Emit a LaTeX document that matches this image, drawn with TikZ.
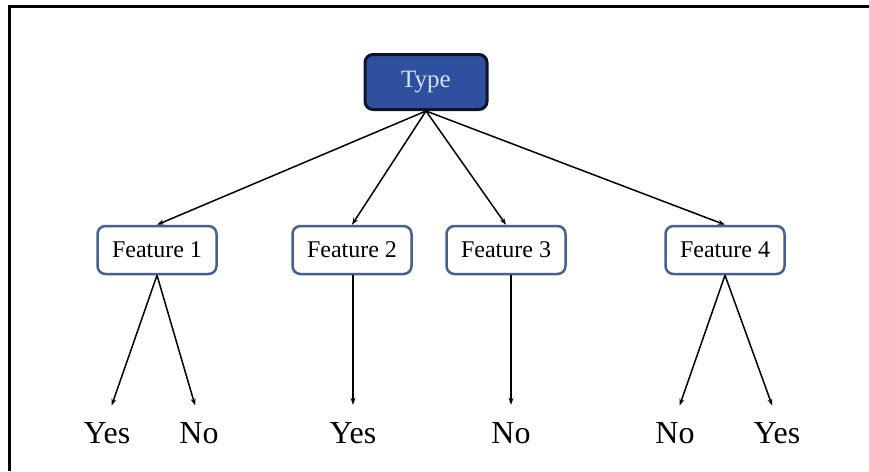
\documentclass[tikz,border=0pt]{standalone}
\usepackage{fontspec}
\setmainfont{Liberation Serif}
\usetikzlibrary{positioning}
\usetikzlibrary{arrows.meta}

\definecolor{typeblue}{RGB}{47,80,158}
\definecolor{typeedge}{RGB}{15,20,40}
\definecolor{featedge}{RGB}{70,95,140}
\definecolor{typetext}{RGB}{215,225,248}

\begin{document}
\begin{tikzpicture}[x=1pt, y=-1pt,
    typebox/.style={rectangle, rounded corners=8pt, minimum width=122pt, minimum height=55pt, line width=3pt, draw=typeedge, fill=typeblue, text=typetext, font=\fontsize{25}{29}\selectfont},
    featbox/.style={rectangle, rounded corners=8pt, minimum width=119pt, minimum height=48pt, line width=2.5pt, draw=featedge, fill=white, font=\fontsize{24}{28}\selectfont},
    answer/.style={anchor=base, inner sep=3pt, font=\fontsize{32}{36}\selectfont},
    branch/.style={line width=1.5pt, -{Stealth[length=7pt, width=5pt]}}]
    \useasboundingbox (0,0) rectangle (869,471);
    \draw[line width=3pt] (9,471) -- (9,6) -- (869,6);

    \node (type) [typebox] at (426,82) {Type};

    \node (feat1) [featbox] at (157,250) {Feature 1};
    \node (feat2) [featbox, right = 73.5pt of feat1] {Feature 2};
    \node (feat3) [featbox, right = 32.5pt of feat2] {Feature 3};
    \node (feat4) [featbox, right = 97.5pt of feat3] {Feature 4};

    \node (yes1) [answer] at (107,443) {Yes};
    \node (no1) [answer] at (199,443) {No};
    \node (yes2) [answer] at (353,443) {Yes};
    \node (no3) [answer] at (511,443) {No};
    \node (no4) [answer] at (675,443) {No};
    \node (yes4) [answer] at (777,443) {Yes};

    \draw[branch] (type.south) -- (feat1.north);
    \draw[branch] (type.south) -- (feat2.north);
    \draw[branch] (type.south) -- (feat3.north);
    \draw[branch] (type.south) -- (feat4.north);

    \draw[branch, shorten >=14pt] (feat1.south) -- (yes1.north);
    \draw[branch, shorten >=14pt] (feat1.south) -- (no1.north);
    \draw[branch, shorten >=14pt] (feat2.south -| yes2.north) -- (yes2.north);
    \draw[branch, shorten >=14pt] (feat3.south -| no3.north) -- (no3.north);
    \draw[branch, shorten >=14pt] (feat4.south) -- (no4.north);
    \draw[branch, shorten >=14pt] (feat4.south) -- (yes4.north);
\end{tikzpicture}
\end{document}
